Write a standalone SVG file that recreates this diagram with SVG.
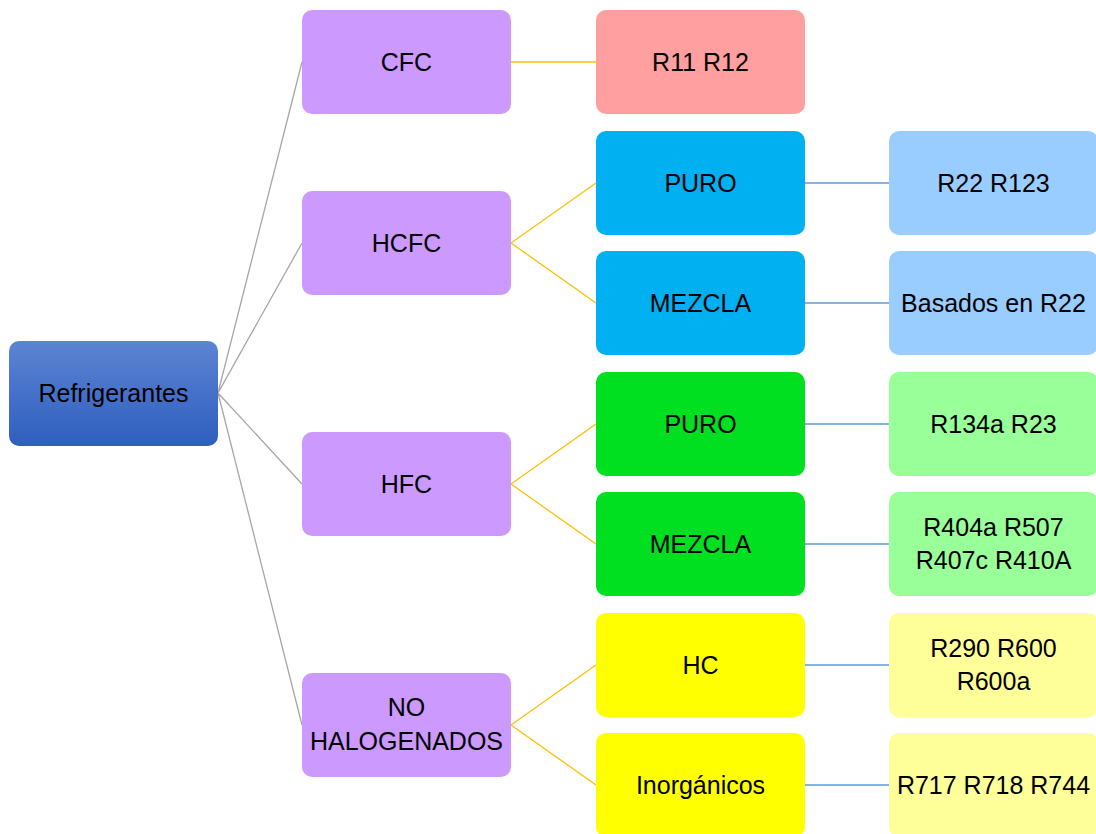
<svg xmlns="http://www.w3.org/2000/svg" width="1096" height="834" viewBox="0 0 1096 834">
<style>
text{font-family:"Liberation Sans",Arial,sans-serif;font-size:25px;fill:#000;text-anchor:middle}
.l1{fill:#CC99FF}
.c1{stroke:#A6A6A6;stroke-width:1.3;fill:none}
.c2{stroke:#FFC000;stroke-width:1.3;fill:none}
.c3{stroke:#5B9BD5;stroke-width:1.3;fill:none}
</style>
<defs>
<linearGradient id="gr" x1="0" y1="0" x2="0" y2="1">
<stop offset="0" stop-color="#5D84D3"/>
<stop offset="1" stop-color="#2E5EBF"/>
</linearGradient>
</defs>
<rect width="1096" height="834" fill="#fff"/>
<g id="connectors">
<path class="c1" d="M218,393 L302,62 M218,393 L302,243 M218,393 L302,484 M218,393 L302,725"/>
<path class="c2" d="M511,62 L596,62 M511,243 L596,183 M511,243 L596,303 M511,484 L596,424 M511,484 L596,544 M511,725 L596,665 M511,725 L596,785"/>
<path class="c3" d="M805,183 L889,183 M805,303 L889,303 M805,424 L889,424 M805,544 L889,544 M805,665 L889,665 M805,785 L889,785"/>
</g>
<g id="root"><rect x="9" y="341" width="209" height="105" rx="10" fill="url(#gr)"/><text x="113.5" y="402">Refrigerantes</text></g>
<g id="cfc"><rect class="l1" x="302" y="10" width="209" height="104" rx="10"/><text x="406.5" y="71">CFC</text></g>
<g id="hcfc"><rect class="l1" x="302" y="191" width="209" height="104" rx="10"/><text x="406.5" y="252">HCFC</text></g>
<g id="hfc"><rect class="l1" x="302" y="432" width="209" height="104" rx="10"/><text x="406.5" y="493">HFC</text></g>
<g id="nohal"><rect class="l1" x="302" y="673" width="209" height="104" rx="10"/><text x="406.5" y="716">NO</text><text x="406.5" y="750">HALOGENADOS</text></g>
<g id="r11"><rect x="596" y="10" width="209" height="104" rx="10" fill="#FF9F9F"/><text x="700.5" y="71">R11 R12</text></g>
<g id="hcfc-puro"><rect x="596" y="131" width="209" height="104" rx="10" fill="#00B0F0"/><text x="700.5" y="192">PURO</text></g>
<g id="hcfc-mezcla"><rect x="596" y="251" width="209" height="104" rx="10" fill="#00B0F0"/><text x="700.5" y="312">MEZCLA</text></g>
<g id="hfc-puro"><rect x="596" y="372" width="209" height="104" rx="10" fill="#00E020"/><text x="700.5" y="433">PURO</text></g>
<g id="hfc-mezcla"><rect x="596" y="492" width="209" height="104" rx="10" fill="#00E020"/><text x="700.5" y="553">MEZCLA</text></g>
<g id="hc"><rect x="596" y="613" width="209" height="104" rx="10" fill="#FFFF00"/><text x="700.5" y="674">HC</text></g>
<g id="inorg"><rect x="596" y="733" width="209" height="104" rx="10" fill="#FFFF00"/><text x="700.5" y="794">Inorgánicos</text></g>
<g id="r22"><rect x="889" y="131" width="209" height="104" rx="10" fill="#99CCFF"/><text x="993.5" y="192">R22 R123</text></g>
<g id="basados"><rect x="889" y="251" width="209" height="104" rx="10" fill="#99CCFF"/><text x="993.5" y="312">Basados en R22</text></g>
<g id="r134a"><rect x="889" y="372" width="209" height="104" rx="10" fill="#99FF99"/><text x="993.5" y="433">R134a R23</text></g>
<g id="r404a"><rect x="889" y="492" width="209" height="104" rx="10" fill="#99FF99"/><text x="993.5" y="536">R404a R507</text><text x="993.5" y="569">R407c R410A</text></g>
<g id="r290"><rect x="889" y="613" width="209" height="104" rx="10" fill="#FFFF99"/><text x="993.5" y="657">R290 R600</text><text x="993.5" y="690">R600a</text></g>
<g id="r717"><rect x="889" y="733" width="209" height="104" rx="10" fill="#FFFF99"/><text x="993.5" y="794">R717 R718 R744</text></g>
</svg>
